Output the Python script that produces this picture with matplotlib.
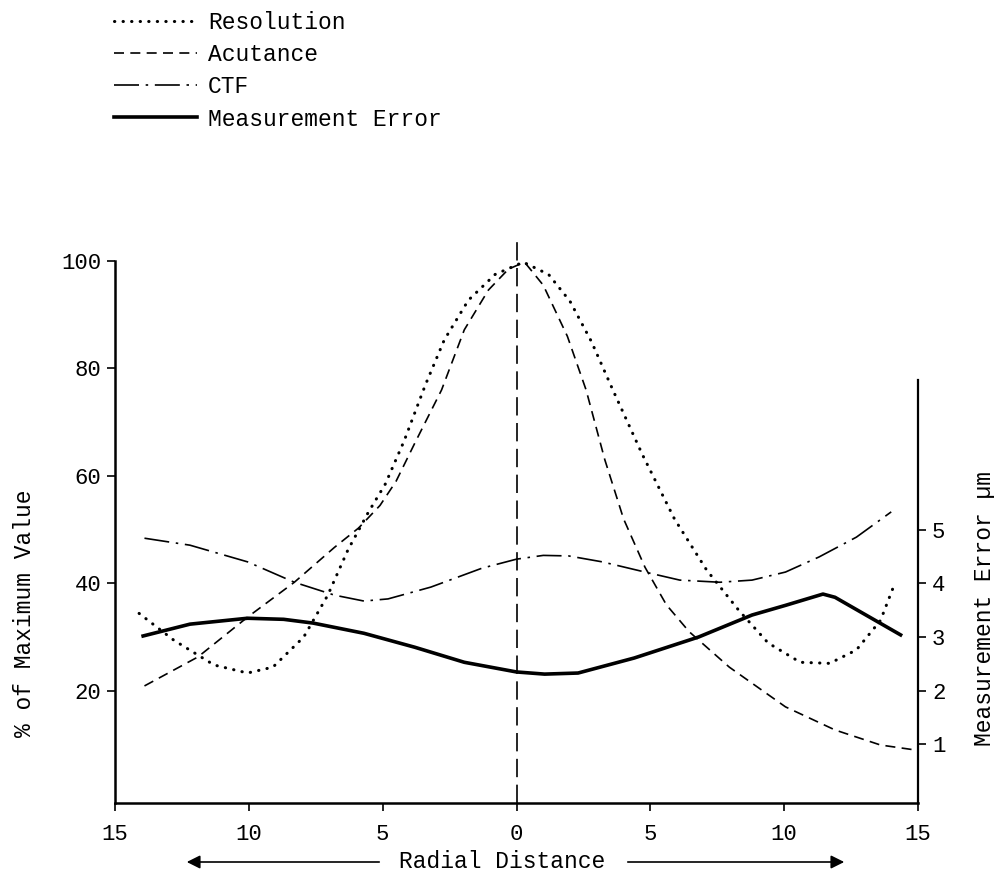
import matplotlib.pyplot as plt

plt.rcParams['font.family'] = ['Liberation Mono', 'DejaVu Sans Mono']

# Resolution (% of max value) vs radial distance
res_x = [-14.1, -12.8, -11.3, -10.05, -9.1, -7.95, -7.05, -6.3, -5.55, -4.9, -4.2,
         -3.4, -2.7, -1.8, -0.8, 0.25, 1.2, 2.0, 2.8, 3.6, 4.7, 5.9, 7.1, 8.3,
         9.4, 10.6, 11.7, 12.7, 13.6, 14.15]
res_y = [34.4, 29.4, 24.8, 23.3, 24.4, 30.0, 37.8, 46.2, 53.1, 58.5, 66.5,
         77.0, 85.3, 92.7, 97.5, 99.8, 97.5, 92.5, 85.0, 76.0, 64.0, 52.0, 42.5, 35.0,
         28.9, 25.3, 25.1, 27.6, 33.1, 40.2]

# Acutance (% of max value)
acu_x = [-13.9, -11.9, -10.05, -8.3, -6.8, -5.9, -5.1, -4.5, -3.8, -2.8, -1.95,
         -1.05, -0.3, 0.3, 1.0, 1.9, 2.6, 3.3, 4.0, 4.8, 5.6, 6.45, 7.95, 10.05,
         11.9, 13.6, 15.0]
acu_y = [20.9, 26.3, 33.7, 40.2, 46.7, 50.3, 54.5, 59.0, 66.1, 76.0, 87.2,
         94.6, 98.5, 99.8, 95.5, 86.0, 76.0, 63.0, 52.0, 43.0, 36.0, 31.0, 24.4, 17.0,
         12.7, 9.9, 8.9]

# CTF (% of max value)
ctf_x = [-13.9, -12.2, -10.05, -8.3, -6.8, -5.7, -4.8, -3.2, -1.3, 0.0, 1.0,
         1.95, 3.2, 4.8, 6.1, 7.6, 8.8, 10.05, 11.3, 12.7, 14.0]
ctf_y = [48.4, 47.1, 44.0, 40.2, 37.8, 36.7, 37.1, 39.3, 42.8, 44.5, 45.2,
         45.1, 44.0, 42.1, 40.6, 40.2, 40.6, 42.1, 44.9, 48.6, 53.3]

# Measurement error (um, right axis)
err_x = [-13.95, -12.2, -10.05, -8.7, -7.6, -5.7, -3.8, -1.95, 0.0, 1.05, 2.3,
         4.4, 6.8, 8.8, 10.05, 11.45, 11.9, 14.35]
err_y = [3.02, 3.24, 3.35, 3.33, 3.26, 3.07, 2.81, 2.53, 2.35, 2.31, 2.33,
         2.61, 3.00, 3.41, 3.59, 3.80, 3.74, 3.04]

x_ticks = [-15, -10, -5, 0, 5, 10, 15]
left_ticks = [20, 40, 60, 80, 100]
right_ticks = [1, 2, 3, 4, 5]

fig = plt.figure(figsize=(9.95, 8.72), dpi=100)
ax = fig.add_axes([0.1156, 0.0791, 0.807, 0.6468])
ax.set_xlim(-15, 15)
ax.set_ylim(-0.9, 104.1)

l1, = ax.plot(res_x, res_y, color='black', lw=2.2, linestyle=(0, (0.1, 2.7)),
              dash_capstyle='round', label='Resolution')
l2, = ax.plot(acu_x, acu_y, color='black', lw=1.2, linestyle=(0, (6, 3.8)),
              label='Acutance')
l3, = ax.plot(ctf_x, ctf_y, color='black', lw=1.2, linestyle=(0, (15, 4, 1.5, 4)),
              label='CTF')
ax.axvline(0, color='black', lw=1.2, dashes=(11, 4.5))

ax2 = ax.twinx()
ax2.set_ylim(-0.09, 10.41)
l4, = ax2.plot(err_x, err_y, color='black', lw=2.6, label='Measurement Error')

ax.set_xticks(x_ticks)
ax.set_xticklabels([str(abs(t)) for t in x_ticks])
ax.set_yticks(left_ticks)
ax2.set_yticks(right_ticks)

ax.tick_params(direction='out', length=6, width=1.2, labelsize=16, pad=4)
ax.tick_params(axis='x', pad=9)
ax2.tick_params(direction='out', length=6, width=1.2, labelsize=16, pad=4)

for s in ['top', 'right']:
    ax.spines[s].set_visible(False)
for s in ['top', 'left', 'bottom']:
    ax2.spines[s].set_visible(False)
ax.spines['left'].set_bounds(-0.9, 100)
ax.spines['left'].set_linewidth(1.8)
ax.spines['bottom'].set_linewidth(1.8)
ax2.spines['right'].set_bounds(-0.09, 7.78)
ax2.spines['right'].set_linewidth(1.6)

fig.text(25 / 995, 1 - 613 / 872, '% of Maximum Value', rotation=90,
         ha='center', va='center', fontsize=16.5)
fig.text(985 / 995, 1 - 608 / 872, 'Measurement Error µm', rotation=90,
         ha='center', va='center', fontsize=16.5)
fig.text(502 / 995, 1 - 861 / 872, 'Radial Distance', ha='center', va='center',
         fontsize=16.5)

arrow = dict(arrowstyle='-|>', color='black', lw=1.2, mutation_scale=20)
ax.annotate('', xy=(184, 10), xytext=(382, 10), xycoords='figure pixels',
            textcoords='figure pixels', arrowprops=arrow)
ax.annotate('', xy=(847, 10), xytext=(625, 10), xycoords='figure pixels',
            textcoords='figure pixels', arrowprops=arrow)

fig.legend([l1, l2, l3, l4], [l.get_label() for l in [l1, l2, l3, l4]],
           loc='upper left', bbox_to_anchor=(114 / 995, 1 - 11 / 872),
           frameon=False, prop={'size': 16.5}, handlelength=3.6,
           handletextpad=0.5, labelspacing=0.4, borderpad=0, borderaxespad=0)

fig.savefig('out.png', dpi=100)
